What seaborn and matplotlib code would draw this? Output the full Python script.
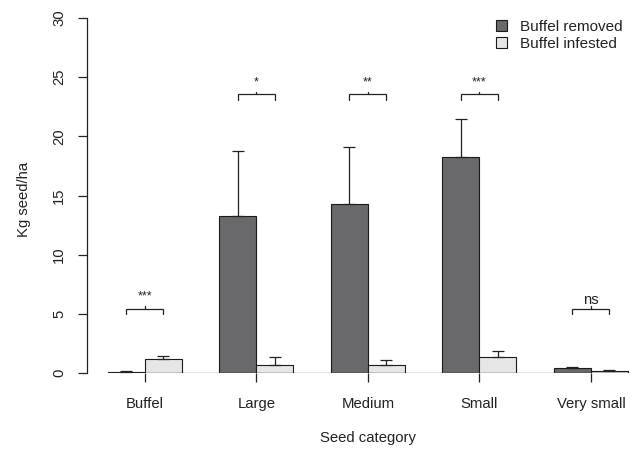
import matplotlib
matplotlib.use("Agg")
import matplotlib.pyplot as plt
import seaborn as sns
import pandas as pd
import numpy as np

# Seed mass per hectare by seed category and plot treatment
categories = ["Buffel", "Large", "Medium", "Small", "Very small"]
treatments = ["Buffel removed", "Buffel infested"]
removed_mean = [0.10, 13.3, 14.25, 18.25, 0.40]
removed_se = [0.06, 5.45, 4.85, 3.25, 0.08]
infested_mean = [1.20, 0.65, 0.70, 1.32, 0.20]
infested_se = [0.25, 0.68, 0.37, 0.57, 0.05]
sig_labels = ["***", "*", "**", "***", "ns"]
sig_heights = [5.45, 23.55, 23.55, 23.55, 5.45]

df = pd.DataFrame({
    "Seed category": categories * 2,
    "Treatment": [treatments[0]] * 5 + [treatments[1]] * 5,
    "Kg seed/ha": removed_mean + infested_mean,
    "se": removed_se + infested_se,
})

sns.set_style("white")
plt.rcParams["font.family"] = ["Liberation Sans", "DejaVu Sans"]
ink = "#222222"
fs = 10.7

fig = plt.figure(figsize=(6.35, 4.5), dpi=100)
ax = fig.add_axes([87 / 635, (450 - 373) / 450, (630 - 87) / 635, (373 - 18) / 450])

palette = {treatments[0]: "#69696c", treatments[1]: "#e6e6e6"}
sns.barplot(data=df, x="Seed category", y="Kg seed/ha", hue="Treatment",
            order=categories, hue_order=treatments, palette=palette,
            width=0.664, saturation=1, errorbar=None, edgecolor="#1a1a1a",
            linewidth=0.8, ax=ax)

# one-sided (upper) standard-error bars, placed on each bar's centre
bars = [p for p in ax.patches if p.get_width() > 0][:10]
centers = {}
for p in bars:
    cx = p.get_x() + p.get_width() / 2
    idx = int(round(cx))
    side = 0 if cx < idx else 1
    centers[(idx, side)] = (cx, p.get_width())
for t, (means, ses) in enumerate([(removed_mean, removed_se), (infested_mean, infested_se)]):
    xs = [centers[(i, t)][0] for i in range(len(categories))]
    ax.errorbar(xs, means, yerr=[np.zeros(len(ses)), ses], fmt="none",
                ecolor=ink, elinewidth=0.9, capsize=4.3, capthick=0.9, zorder=3)

# baseline under the bars
bw = centers[(0, 0)][1]
ax.hlines(0, centers[(0, 0)][0] - bw / 2, centers[(4, 1)][0] + bw / 2,
          color=ink, lw=0.9, zorder=4)

# significance brackets
for i, (lab, h) in enumerate(zip(sig_labels, sig_heights)):
    x0, x1 = centers[(i, 0)][0], centers[(i, 1)][0]
    ax.plot([x0, x0, x1, x1], [h - 0.5, h, h, h - 0.5], color=ink, lw=0.9,
            solid_joinstyle="miter")
    ax.plot([(x0 + x1) / 2] * 2, [h, h + 0.2], color=ink, lw=0.9)
    if lab == "ns":
        ax.text((x0 + x1) / 2, h + 0.15, lab, ha="center", va="bottom",
                fontsize=fs, color=ink)
    else:
        ax.text((x0 + x1) / 2, h + 0.5, lab, ha="center", va="bottom",
                fontsize=9, color=ink)

ax.set_xlim(-0.520, 4.350)
ax.set_ylim(0, 30)
ax.set_yticks([0, 5, 10, 15, 20, 25, 30])
for s in ["top", "right", "bottom"]:
    ax.spines[s].set_visible(False)
ax.spines["left"].set_bounds(0, 30)
ax.spines["left"].set_color(ink)
ax.spines["left"].set_linewidth(0.9)

ax.tick_params(axis="y", direction="out", length=6.5, width=0.9, color=ink,
               labelsize=fs, labelcolor=ink, pad=8.5, left=True)
ax.tick_params(axis="x", direction="out", length=6.5, width=0.9, color=ink,
               labelsize=fs, labelcolor=ink, pad=10.5, bottom=True)
for lbl in ax.get_yticklabels():
    lbl.set_rotation(90)
    lbl.set_va("center")

ax.set_xlabel("Seed category", fontsize=fs, color=ink)
ax.xaxis.set_label_coords((368 - 87) / (630 - 87), -0.163)
ax.set_ylabel("Kg seed/ha", fontsize=fs, color=ink)
ax.yaxis.set_label_coords(-(87 - 31) / (630 - 87), 0.49)

handles, labels = ax.get_legend_handles_labels()
ax.legend(handles, labels, loc="upper left", bbox_to_anchor=(488 / 635, 1 - 12 / 450),
          bbox_transform=fig.transFigure, frameon=False, fontsize=11,
          handlelength=0.75, handleheight=0.75, handletextpad=0.85,
          labelspacing=0.22, borderpad=0, labelcolor=ink)

fig.savefig("out.png", dpi=100)
